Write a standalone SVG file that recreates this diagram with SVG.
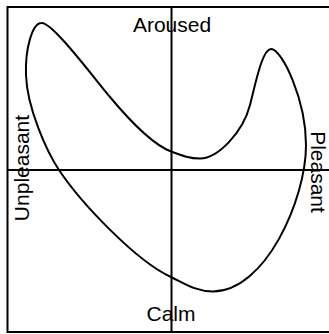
<svg xmlns="http://www.w3.org/2000/svg" width="329" height="334" viewBox="0 0 329 334">
<style>
.ln{fill:none;stroke:#000;stroke-width:2}
.lb{font-family:"Liberation Sans",Arial,sans-serif;font-size:21px;fill:#000}
</style>
<rect x="0" y="0" width="329" height="334" fill="#fff"/>
<g id="frame">
<rect class="ln" x="7.5" y="7" width="328" height="325"/>
</g>
<g id="axes">
<line class="ln" x1="171.5" y1="7" x2="171.5" y2="332"/>
<line class="ln" x1="7.5" y1="170" x2="335" y2="170"/>
</g>
<g id="curve">
<path class="ln" d="M41.5,23 C52,22 90,73 110,97 C128,118.6 153,144.5 171,151.5 C183,156 190,158.5 200,158.5 C218,158.5 243,132 250,105 C255,86 262,49 271,49 C282,49 306,100 306,145 C306,200 265,291.5 213,291.5 C195,291.5 183,282.5 171,277 C136,261 81,203 59,170 C47,152 27,108 26,75 C25,50 32,23 41.5,23 Z"/>
</g>
<g id="labels">
<text class="lb" x="172" y="32" text-anchor="middle">Aroused</text>
<text class="lb" x="171" y="321" text-anchor="middle">Calm</text>
<text class="lb" text-anchor="middle" transform="translate(29,168) rotate(-90)">Unpleasant</text>
<text class="lb" text-anchor="middle" transform="translate(311,172) rotate(90)">Pleasant</text>
</g>
</svg>
